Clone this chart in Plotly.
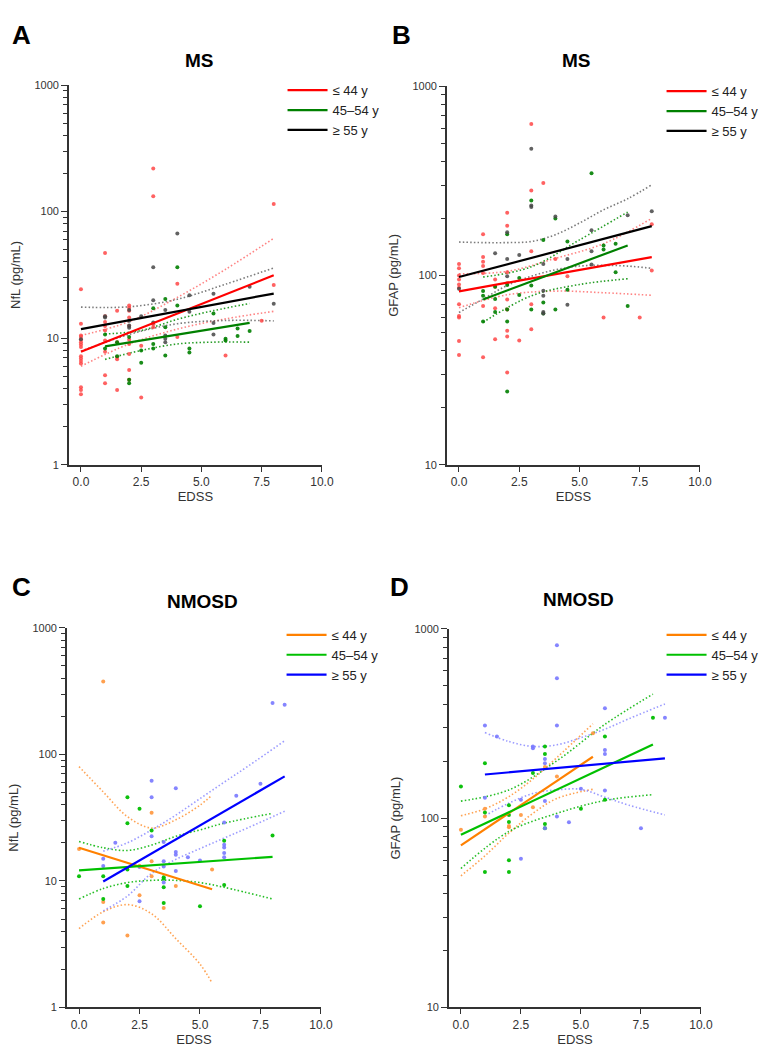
import plotly.graph_objects as go

W, H = 772, 1053

# ---------------- DATA ----------------
# Panel A: NfL, MS
A_red_x = [0]*15 + [1]*9 + [1.5]*5 + [2]*10 + [2.5]*2 + [3]*4 + [4]*2 + [6] + [7.5] + [8]*2
A_red_y = [24.4, 13.0, 10.5, 10.2, 9.7, 9.3, 8.9, 8.5, 7.2, 6.9, 6.6, 6.3, 4.1, 3.9, 3.6,
           47, 14.9, 13.4, 12.5, 11.5, 9.6, 7.8, 5.1, 4.4,
           16.5, 9.3, 7.1, 6.8, 3.9,
           18.1, 17.4, 16.5, 14.6, 12.5, 9.7, 9.0, 7.5, 5.6, 4.7,
           8.7, 3.4,
           219, 132, 12.9, 12.2,
           26.9, 10.2,
           7.3, 13.7, 115, 26.3]
A_grn_x = [1]*2 + [1.5]*2 + [2]*3 + [2.5]*2 + [3]*3 + [3.5]*3 + [4]*2 + [4.5]*2 + [5.5] + [6]*2 + [6.5]*2 + [7]
A_grn_y = [10.7, 8.3, 9.3, 7.2, 10.2, 4.7, 4.4, 8.0, 6.4, 17.2, 9.0, 8.3, 20.4, 12.2, 7.3,
           36.3, 18.1, 8.3, 7.7, 15.7, 9.9, 9.6, 11.9, 10.4, 11.4]
A_blk_x = [0] + [1]*2 + [2]*4 + [2.5] + [3]*3 + [3.5]*4 + [4] + [4.5]*2 + [5.5]*3 + [7] + [8]
A_blk_y = [9.8, 14.9, 14.6, 16.7, 13.7, 12.6, 12.1, 14.9, 36.3, 19.9, 13.3,
           16.7, 10.5, 9.9, 9.3, 67.3, 21.8, 16.2, 22.4, 13.2, 10.7, 25.5, 18.7]
A_fit_red = ([0, 8], [7.8, 31.4])
A_fit_grn = ([1, 7], [8.6, 13.2])
A_fit_blk = ([0, 8], [11.8, 22.5])
A_ci_red_x = [0, 2, 4, 6, 8]
A_ci_red_up = [10.5, 13.5, 21.0, 35.0, 61.5]
A_ci_red_lo = [6.0, 9.0, 11.8, 14.2, 16.3]
A_ci_grn_x = [1, 2.5, 4, 5.5, 7]
A_ci_grn_up = [10.8, 11.5, 14.1, 16.5, 18.8]
A_ci_grn_lo = [6.8, 8.0, 9.0, 9.3, 9.3]
A_ci_blk_x = [0, 2, 4, 6, 8]
A_ci_blk_up = [17.6, 17.7, 20.3, 26.7, 35.9]
A_ci_blk_lo = [7.9, 10.7, 13.0, 13.8, 13.7]

# Panel B: GFAP, MS
B_red_x = [0]*11 + [1]*7 + [1.5]*4 + [2]*9 + [2.5] + [3]*5 + [3.5] + [4] + [4.5] + [6] + [7.5] + [8]*2
B_red_y = [115, 109, 100, 95, 89.5, 86, 70.4, 61, 60, 45, 38,
           165, 125, 118, 112, 103, 69, 37,
           95, 87, 67, 46,
           214, 183, 104, 91, 74.5, 66, 51, 47.5, 30.7,
           45.3,
           631, 281, 134, 70.4, 52,
           308, 122, 99, 60, 60, 186, 106]
B_grn_x = [1]*3 + [1.5]*3 + [2]*5 + [2.5]*2 + [3]*3 + [3.5]*3 + [4]*2 + [4.5]*2 + [5.5] + [6]*2 + [6.5]*2 + [7]
B_grn_y = [82.6, 78, 57, 87, 75, 64, 165, 89, 66, 57, 24.4, 97, 78.7, 249, 88.5, 66,
           154, 72, 63, 200, 66, 151, 84, 346, 144, 137, 147, 104, 69]
B_blk_x = [0] + [1.5] + [2]*3 + [2.5] + [3]*3 + [3.5]*5 + [4] + [4.5]*2 + [5.5]*3 + [7] + [8]
B_blk_y = [85, 131, 169, 122, 99, 128, 467, 234, 230, 115, 83, 78, 64, 63, 205, 122, 70,
           173, 134, 114, 208, 218]
B_fit_red = ([0, 8], [82.4, 125])
B_fit_grn = ([1, 7], [74.6, 144])
B_fit_blk = ([0, 8], [98, 182])
B_ci_red_x = [0, 2, 4, 6, 8]
B_ci_red_up = [102, 105, 123, 147, 200]
B_ci_red_lo = [67.5, 79, 82.6, 81, 78.5]
B_ci_grn_x = [1, 3, 5, 7]
B_ci_grn_up = [98, 111, 154, 216]
B_ci_grn_lo = [56.5, 78, 89.5, 96]
B_ci_blk_x = [0, 1, 2, 3, 4, 5, 6, 7, 8]
B_ci_blk_up = [150, 149, 149, 151, 164, 189, 222, 254, 301]
B_ci_blk_lo = [63.7, 75, 88.5, 99, 107, 112, 113, 112, 109]

# Panel C: NfL, NMOSD
C_org_x = [0] + [1]*3 + [2] + [2.5]*2 + [3]*3 + [3.5] + [4] + [5.5]
C_org_y = [17.9, 377, 6.8, 4.7, 3.7, 13.2, 7.7, 34.6, 14.3, 10.9, 6.1, 9.1, 12.3]
C_grn_x = [0] + [1]*2 + [2]*4 + [2.5] + [3] + [3.5]*4 + [5] + [6]*2 + [8]
C_grn_y = [10.9, 10.9, 7.2, 45.8, 28.6, 12.3, 9.1, 37.2, 25.0, 10.7, 10.4, 8.9, 6.7,
           6.3, 20.8, 9.3, 22.9]
C_blu_x = [1]*2 + [1.5] + [2.5]*2 + [3]*3 + [3.5]*4 + [4]*4 + [4.5] + [5] + [6]*5 + [6.5] + [7.5] + [8] + [8.5]
C_blu_y = [15.0, 13.1, 20.0, 12.9, 6.9, 62, 45.8, 22.5, 20.3, 14.3, 13.0, 9.7,
           53.9, 16.9, 16.1, 12.0, 15.4, 14.5, 28.9, 19.3, 18.4, 16.6, 15.4, 47.1, 58.7, 255, 247]
C_fit_org = ([0, 5.5], [18.3, 8.6])
C_fit_grn = ([0, 8], [12.1, 15.5])
C_fit_blu = ([1, 8.5], [9.9, 67])
C_ci_org_x = [0, 1, 2, 3, 4, 5, 5.5]
C_ci_org_up = [80, 50.5, 32.2, 26.2, 30.4, 39.7, 47.6]
C_ci_org_lo = [4.2, 5.7, 6.5, 5.5, 3.5, 2.2, 1.56]
C_ci_grn_x = [0, 1, 2, 3, 4, 5, 6, 8]
C_ci_grn_up = [20.5, 18.3, 17.4, 19.2, 22.5, 25.3, 28.6, 34.2]
C_ci_grn_lo = [7.2, 8.7, 9.7, 10.1, 10.1, 9.7, 8.9, 7.2]
C_ci_blu_x = [1, 2, 3, 4, 5, 6, 7, 8.5]
C_ci_blu_up = [17.2, 20.0, 25.3, 33.1, 44.7, 60.3, 81, 128]
C_ci_blu_lo = [5.8, 7.6, 11.5, 14.8, 18.0, 21.8, 26.4, 35.5]

# Panel D: GFAP, NMOSD
D_org_x = [0] + [1]*2 + [2]*2 + [2.5] + [3] + [3.5] + [4] + [5.5]
D_org_y = [86.8, 112, 102, 91, 89.6, 104, 114, 186, 166, 281]
D_grn_x = [0] + [1]*3 + [2]*5 + [3] + [3.5]*4 + [5] + [6]*2 + [8]
D_grn_y = [147, 195, 107, 52, 117, 104, 95.5, 60, 52, 173, 239, 218, 93, 88.5, 112, 270, 125, 339]
D_blu_x = [1]*2 + [1.5] + [2.5]*2 + [3]*2 + [3.5]*4 + [4]*4 + [4.5] + [5] + [6]*4 + [7.5] + [8.5]
D_blu_y = [309, 128, 270, 125, 61, 239, 234, 205, 195, 123, 88.5, 819, 548, 309, 102,
           95, 143, 380, 229, 218, 140, 88.5, 339]
D_fit_org = ([0, 5.5], [71.8, 211])
D_fit_grn = ([0, 8], [81.7, 245])
D_fit_blu = ([1, 8.5], [170, 207])
D_ci_org_x = [0, 1, 2, 3, 4, 5.5]
D_ci_org_up = [103, 112, 130, 161, 209, 315]
D_ci_org_lo = [49.6, 63.2, 83.4, 106, 127, 142]
D_ci_grn_x = [0, 2, 4, 6, 8]
D_ci_grn_up = [123, 141, 201, 313, 452]
D_ci_grn_lo = [54.2, 85, 106, 124, 133]
D_ci_blu_x = [1, 2, 3, 4, 5, 6, 7, 8.5]
D_ci_blu_up = [283, 254, 239, 244, 266, 295, 335, 401]
D_ci_blu_lo = [103, 120, 135, 141, 142, 129, 117, 104]

x_ticks = [0, 2.5, 5, 7.5, 10]
x_ticktext = ["0.0", "2.5", "5.0", "7.5", "10.0"]

# ---------------- STYLE ----------------
FONT = "Arial, Liberation Sans, sans-serif"
C_MS = dict(red=("#ff0000", "rgba(255,70,70,0.85)", "rgba(255,90,90,0.75)"),
            grn=("#008000", "rgba(0,128,0,0.9)", "rgba(0,140,0,0.85)"),
            blk=("#000000", "rgba(70,70,70,0.85)", "rgba(90,90,90,0.8)"))
C_NM = dict(org=("#ff8000", "rgba(255,150,60,0.9)", "rgba(255,140,40,0.8)"),
            grn=("#00c000", "rgba(0,190,0,0.95)", "rgba(0,180,0,0.85)"),
            blu=("#0000ff", "rgba(120,120,255,0.9)", "rgba(130,130,255,0.8)"))


def px_x(p):
    return p / W


def px_y(p):
    return 1 - p / H


fig = go.Figure()

panels = [
    ("A", "x", "y", "legend", [
        ("≤ 44 y", C_MS["red"], A_red_x, A_red_y, A_fit_red, A_ci_red_x, A_ci_red_up, A_ci_red_lo),
        ("45–54 y", C_MS["grn"], A_grn_x, A_grn_y, A_fit_grn, A_ci_grn_x, A_ci_grn_up, A_ci_grn_lo),
        ("≥ 55 y", C_MS["blk"], A_blk_x, A_blk_y, A_fit_blk, A_ci_blk_x, A_ci_blk_up, A_ci_blk_lo)]),
    ("B", "x2", "y2", "legend2", [
        ("≤ 44 y", C_MS["red"], B_red_x, B_red_y, B_fit_red, B_ci_red_x, B_ci_red_up, B_ci_red_lo),
        ("45–54 y", C_MS["grn"], B_grn_x, B_grn_y, B_fit_grn, B_ci_grn_x, B_ci_grn_up, B_ci_grn_lo),
        ("≥ 55 y", C_MS["blk"], B_blk_x, B_blk_y, B_fit_blk, B_ci_blk_x, B_ci_blk_up, B_ci_blk_lo)]),
    ("C", "x3", "y3", "legend3", [
        ("≤ 44 y", C_NM["org"], C_org_x, C_org_y, C_fit_org, C_ci_org_x, C_ci_org_up, C_ci_org_lo),
        ("45–54 y", C_NM["grn"], C_grn_x, C_grn_y, C_fit_grn, C_ci_grn_x, C_ci_grn_up, C_ci_grn_lo),
        ("≥ 55 y", C_NM["blu"], C_blu_x, C_blu_y, C_fit_blu, C_ci_blu_x, C_ci_blu_up, C_ci_blu_lo)]),
    ("D", "x4", "y4", "legend4", [
        ("≤ 44 y", C_NM["org"], D_org_x, D_org_y, D_fit_org, D_ci_org_x, D_ci_org_up, D_ci_org_lo),
        ("45–54 y", C_NM["grn"], D_grn_x, D_grn_y, D_fit_grn, D_ci_grn_x, D_ci_grn_up, D_ci_grn_lo),
        ("≥ 55 y", C_NM["blu"], D_blu_x, D_blu_y, D_fit_blu, D_ci_blu_x, D_ci_blu_up, D_ci_blu_lo)]),
]

for pname, xa, ya, lg, groups in panels:
    for name, (lc, pc, cc), gx, gy, fit, cx, cup, clo in groups:
        for cy in (cup, clo):
            fig.add_trace(go.Scatter(x=cx, y=cy, mode="lines", xaxis=xa, yaxis=ya,
                                     line=dict(color=cc, width=1.6, dash="1.5px,2.2px", shape="spline"),
                                     showlegend=False, hoverinfo="skip"))
    for name, (lc, pc, cc), gx, gy, fit, cx, cup, clo in groups:
        fig.add_trace(go.Scatter(x=gx, y=gy, mode="markers", xaxis=xa, yaxis=ya,
                                 marker=dict(color=pc, size=4), showlegend=False))
    for name, (lc, pc, cc), gx, gy, fit, cx, cup, clo in groups:
        fig.add_trace(go.Scatter(x=fit[0], y=fit[1], mode="lines", xaxis=xa, yaxis=ya,
                                 line=dict(color=lc, width=2.2), name=name, legend=lg))

# ---------------- LAYOUT ----------------
domains = {
    "A": ((70, 327), (80, 464), [0, 3]),
    "B": ((454, 711), (81, 464), [1, 3]),
    "C": ((68, 326), (629, 1013), [0, 3]),
    "D": ((456, 712), (630, 1013), [1, 3]),
}
ytitles = {"A": "NfL (pg/mL)", "B": "GFAP (pg/mL)", "C": "NfL (pg/mL)", "D": "GFAP (pg/mL)"}
axis_ids = {"A": ("xaxis", "yaxis", "y", "x"), "B": ("xaxis2", "yaxis2", "y2", "x2"),
            "C": ("xaxis3", "yaxis3", "y3", "x3"), "D": ("xaxis4", "yaxis4", "y4", "x4")}

layout = dict(width=W, height=H, margin=dict(l=0, r=0, t=0, b=0),
              paper_bgcolor="white", plot_bgcolor="white",
              font=dict(family=FONT, color="#222"))

for p, ((x0, x1), (y0, y1), yr) in domains.items():
    xk, yk, yref, xref = axis_ids[p]
    minor_vals = []
    for dec in range(yr[0], yr[1]):
        for m in range(2, 10):
            minor_vals.append(m * 10 ** dec)
    layout[xk] = dict(domain=[px_x(x0), px_x(x1)], anchor=yref, range=[-0.5, 10],
                      tickvals=x_ticks, ticktext=x_ticktext, ticks="outside", ticklen=5,
                      tickwidth=1.2, tickcolor="#333", showline=True, linecolor="#333",
                      linewidth=1.6, showgrid=False, zeroline=False,
                      tickfont=dict(size=12, color="#333"),
                      title=dict(text="EDSS", font=dict(size=13, color="#333"), standoff=0))
    layout[yk] = dict(domain=[px_y(y1), px_y(y0)], anchor=xref, type="log", range=yr,
                      tickvals=[10 ** k for k in range(yr[0], yr[1] + 1)],
                      ticktext=[str(10 ** k) for k in range(yr[0], yr[1] + 1)],
                      ticks="outside", ticklen=6, tickwidth=1.2, tickcolor="#333",
                      minor=dict(tickvals=minor_vals, ticks="outside", ticklen=4,
                                 tickwidth=1.1, tickcolor="#333"),
                      showline=True, linecolor="#333", linewidth=1.6, showgrid=False,
                      zeroline=False, tickfont=dict(size=11, color="#333"),
                      title=dict(text=ytitles[p], font=dict(size=13, color="#333"), standoff=11))

legend_pos = {"legend": (287, 70), "legend2": (672, 71), "legend3": (286, 621), "legend4": (672, 621)}
for lk, (lx, ly) in legend_pos.items():
    layout[lk] = dict(x=px_x(lx), y=px_y(ly), xanchor="left", yanchor="top",
                      bgcolor="rgba(0,0,0,0)", font=dict(size=13, color="#222"),
                      tracegroupgap=0, itemwidth=40)

annotations = []
titles = [("MS", 203, 55), ("MS", 586, 55), ("NMOSD", 206, 602), ("NMOSD", 588, 600)]
for t, cx, cy in titles:
    annotations.append(dict(text="<b>%s</b>" % t, x=px_x(cx), y=px_y(cy), xref="paper", yref="paper",
                            showarrow=False, xanchor="center", yanchor="middle",
                            font=dict(size=19, color="#000", family=FONT)))
letters = [("A", 22, 29), ("B", 408, 29), ("C", 22, 588), ("D", 406, 588)]
for t, cx, cy in letters:
    annotations.append(dict(text="<b>%s</b>" % t, x=px_x(cx), y=px_y(cy), xref="paper", yref="paper",
                            showarrow=False, xanchor="center", yanchor="middle",
                            font=dict(size=26, color="#000", family=FONT)))
layout["annotations"] = annotations

fig.update_layout(**layout)
fig.write_html("out.html", config={"displayModeBar": False},
               post_script="document.body.style.margin='0px';document.body.style.overflow='hidden';")
